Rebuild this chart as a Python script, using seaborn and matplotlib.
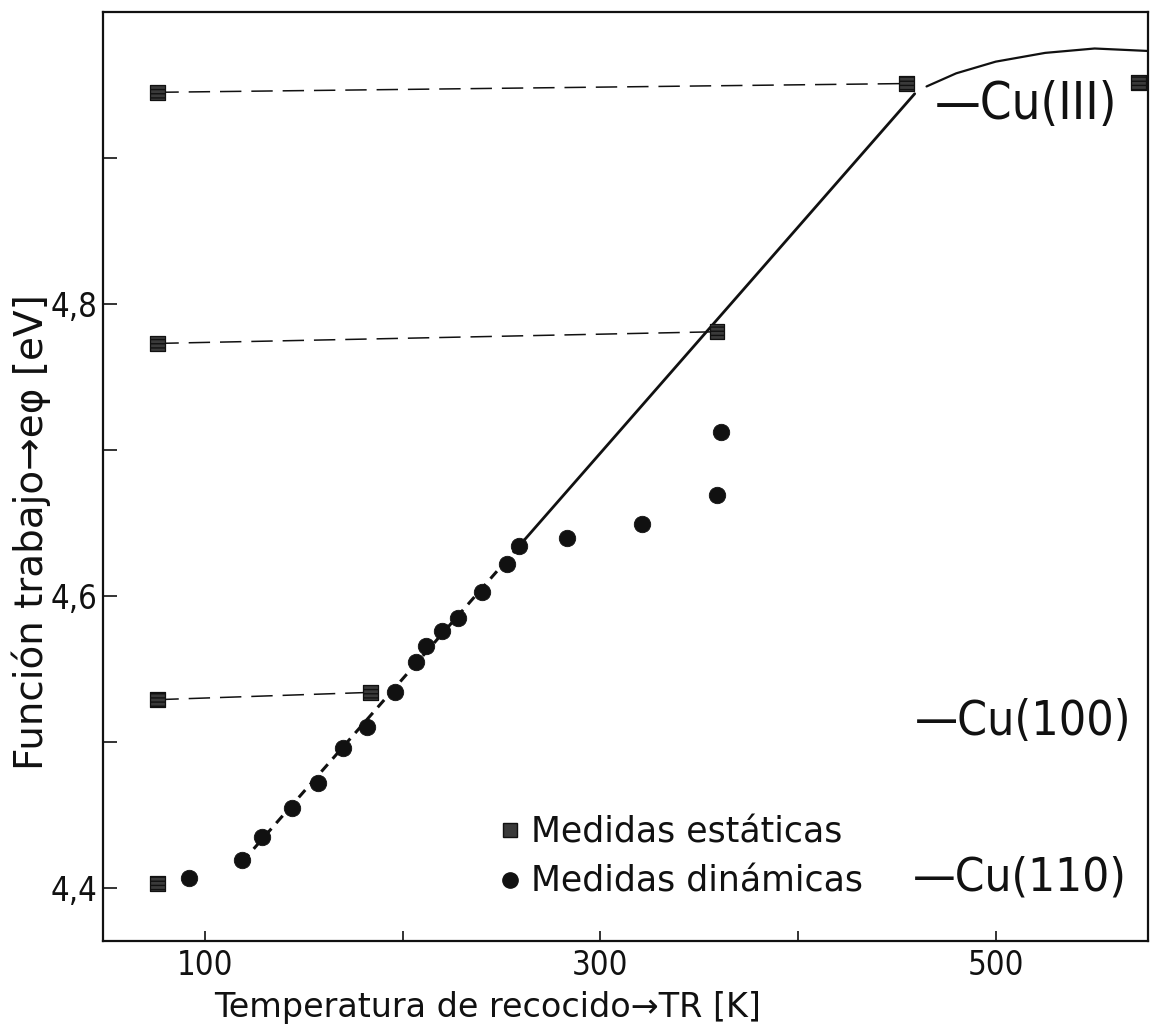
import matplotlib
matplotlib.use("Agg")
import matplotlib.pyplot as plt
from matplotlib.lines import Line2D
from matplotlib import font_manager as fm
import seaborn as sns
import pandas as pd

# ---------------- data ----------------
static_T = [76, 76, 76, 76, 184, 359, 455, 572]
static_v = [4.945, 4.773, 4.529, 4.403, 4.534, 4.781, 4.951, 4.952]

dyn_T = [92, 119, 129, 144, 157, 170, 182, 196, 207, 212, 220, 228,
         240, 253, 259, 283, 321, 359, 361]
dyn_v = [4.407, 4.419, 4.435, 4.455, 4.472, 4.496, 4.510, 4.534, 4.555,
         4.566, 4.576, 4.585, 4.603, 4.622, 4.634, 4.640, 4.649, 4.669, 4.712]

# horizontal dashed ties between static measurements (index pairs)
tie_pairs = [(0, 6), (1, 5), (2, 4)]

# straight fit through the dynamic points: dashed part then solid part
fit_T = [119, 262, 459]
fit_v = [4.418, 4.639, 4.944]

# curve above Cu(III)
curve_T = [465, 480, 500, 525, 550, 582]
curve_v = [4.949, 4.958, 4.966, 4.972, 4.975, 4.973]

# crystal-face reference levels
face_labels = ["Cu(III)", "Cu(100)", "Cu(110)"]
face_T = [469, 459, 458]
face_v = [4.936, 4.514, 4.407]

x_ticks = [100, 200, 300, 400, 500]
x_ticklabels = ["100", "", "300", "", "500"]
y_ticks = [4.4, 4.5, 4.6, 4.7, 4.8, 4.9]
y_ticklabels = ["4,4", "", "4,6", "", "4,8", ""]

legend_labels = ["Medidas estáticas", "Medidas dinámicas"]
x_label = "Temperatura de recocido→TR [K]"
y_label = "Función trabajo→eφ [eV]"

# ---------------- style ----------------
sns.set_style("ticks")
plt.rcParams["font.family"] = ["DejaVu Sans"]
INK = "#111111"

# pick a narrow font if one is installed
narrow_path = None
for f in fm.fontManager.ttflist:
    if (("Narrow" in f.name or "Condensed" in f.name
         or f.stretch in ("condensed", "semi-condensed"))
            and f.style == "normal" and f.weight in (300, 400, "normal", "light")
            and "Mono" not in f.name and "Serif" not in f.name):
        narrow_path = f.fname
        break
if narrow_path:
    NARROW = fm.FontProperties(fname=narrow_path)
else:
    NARROW = fm.FontProperties(family=["Liberation Sans", "DejaVu Sans"])

fig = plt.figure(figsize=(11.6, 10.33), dpi=100)
fig.patch.set_facecolor("white")
ax = fig.add_axes([103 / 1160, 92 / 1033, 1045 / 1160, 929 / 1033])
ax.set_facecolor("white")
renderer = fig.canvas.get_renderer()


def fit_size(text, target_px, base=40.0, max_size=46.0):
    fp = NARROW.copy()
    fp.set_size(base)
    t = fig.text(0, 0, text, fontproperties=fp)
    w = t.get_window_extent(renderer).width
    t.remove()
    return min(max_size, base * target_px / w)


# dashed ties
for i, j in tie_pairs:
    df = pd.DataFrame({"T": [static_T[i], static_T[j]],
                       "v": [static_v[i], static_v[j]]})
    sns.lineplot(data=df, x="T", y="v", ax=ax, color=INK, lw=1.1,
                 linestyle=(0, (14, 6.5)), sort=False, zorder=2)

# fit line: dashed lower part, solid upper part
df_fit_d = pd.DataFrame({"T": fit_T[:2], "v": fit_v[:2]})
df_fit_s = pd.DataFrame({"T": fit_T[1:], "v": fit_v[1:]})
sns.lineplot(data=df_fit_d, x="T", y="v", ax=ax, color=INK, lw=2.2,
             linestyle=(0, (3.2, 2.4)), sort=False, zorder=2)
sns.lineplot(data=df_fit_s, x="T", y="v", ax=ax, color=INK, lw=2.0,
             sort=False, zorder=2)

# curve
df_curve = pd.DataFrame({"T": curve_T, "v": curve_v})
sns.lineplot(data=df_curve, x="T", y="v", ax=ax, color=INK, lw=1.6,
             sort=False, zorder=2)

# markers
df_static = pd.DataFrame({"T": static_T, "v": static_v})
df_dyn = pd.DataFrame({"T": dyn_T, "v": dyn_v})
sns.scatterplot(data=df_static, x="T", y="v", ax=ax, marker="s", s=115,
                color="#3a3a3a", edgecolor=INK, linewidth=0.9, zorder=4,
                hatch="----", legend=False)
sns.scatterplot(data=df_dyn, x="T", y="v", ax=ax, marker="o", s=140,
                color=INK, edgecolor=INK, linewidth=0.6, zorder=4,
                legend=False)

# face labels (sized so they fit the space the reference uses)
face_width_px = [182, 216, 214]
for lab, t, v, wpx in zip(face_labels, face_T, face_v, face_width_px):
    fp = NARROW.copy()
    fp.set_size(fit_size("—" + lab, wpx))
    ax.text(t, v, "—" + lab, ha="left", va="center", fontproperties=fp,
            color=INK, zorder=5)

# axes limits/ticks
ax.set_xlim(48.5, 577)
ax.set_ylim(4.3637, 5.0)
tick_fp = NARROW.copy()
tick_fp.set_size(fit_size("100", 56, max_size=31))
ax.set_xticks(x_ticks)
ax.set_xticklabels(x_ticklabels, fontproperties=tick_fp)
ax.set_yticks(y_ticks)
ax.set_yticklabels(y_ticklabels, fontproperties=tick_fp)
ax.tick_params(axis="x", direction="in", length=7, width=1.2, pad=6,
               colors=INK)
ax.tick_params(axis="y", direction="in", length=10, width=1.2, pad=4,
               colors=INK)
for sp in ax.spines.values():
    sp.set_visible(True)
    sp.set_linewidth(1.6)
    sp.set_color(INK)

ax.set_xlabel(x_label, fontsize=24, color=INK)
ax.set_ylabel(y_label, fontsize=28, color=INK)
ax.xaxis.set_label_coords(0.368, -0.054)
ax.yaxis.set_label_coords(-0.050, 0.44)

# legend
handles = [
    Line2D([], [], marker="s", linestyle="none", markersize=10,
           markerfacecolor="#3a3a3a", markeredgecolor=INK),
    Line2D([], [], marker="o", linestyle="none", markersize=11,
           markerfacecolor=INK, markeredgecolor=INK),
]
leg = ax.legend(handles, legend_labels, loc="center left",
                bbox_to_anchor=(500 / 1160, (1033 - 857) / 1033),
                bbox_transform=fig.transFigure, frameon=False,
                handlelength=0.6, handletextpad=0.3, labelspacing=0.45,
                borderpad=0, borderaxespad=0,
                prop={"family": "DejaVu Sans", "size": 25})
for t in leg.get_texts():
    t.set_color(INK)

fig.savefig("out.png", dpi=100, facecolor="white")
